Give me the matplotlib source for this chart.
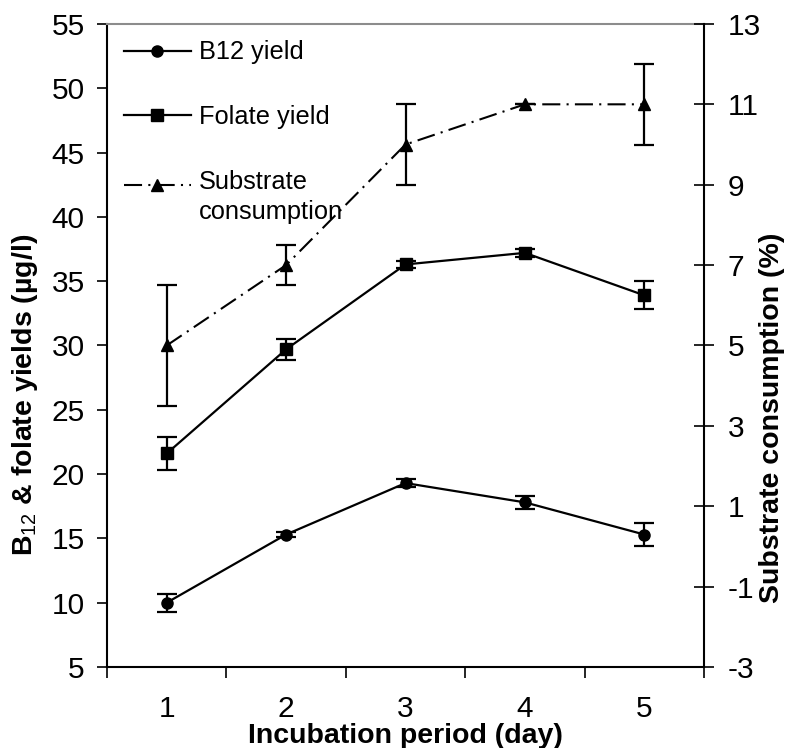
import matplotlib
matplotlib.use("Agg")
import matplotlib.pyplot as plt
import numpy as np
from matplotlib.legend_handler import HandlerLine2D
from matplotlib.ticker import MultipleLocator, FixedLocator

plt.rcParams['font.family'] = ['Liberation Sans', 'DejaVu Sans']
plt.rcParams['mathtext.fontset'] = 'custom'
plt.rcParams['mathtext.rm'] = 'Liberation Sans'
plt.rcParams['mathtext.bf'] = 'Liberation Sans:bold'
plt.rcParams['lines.scale_dashes'] = False
plt.rcParams['axes.unicode_minus'] = False

# data
days = [1, 2, 3, 4, 5]
b12 = [10.0, 15.3, 19.3, 17.8, 15.3]
b12_err = [0.7, 0.2, 0.3, 0.5, 0.9]
folate = [21.6, 29.7, 36.3, 37.2, 33.9]
folate_err = [1.3, 0.8, 0.3, 0.3, 1.1]
substrate = [5, 7, 10, 11, 11]
substrate_err = [1.5, 0.5, 1.0, 0.0, 1.0]
right_ticks = [-3, -1, 1, 3, 5, 7, 9, 11, 13]


class ShiftHandler(HandlerLine2D):
    # keep the marker level with the first text line of a two-line label
    def __init__(self, shift, **kw):
        super().__init__(**kw)
        self.shift = shift

    def create_artists(self, legend, orig_handle, xdescent, ydescent,
                       width, height, fontsize, trans):
        return super().create_artists(legend, orig_handle, xdescent,
                                      ydescent - self.shift, width, height,
                                      fontsize, trans)


fig = plt.figure(figsize=(7.87, 7.48), dpi=100)
ax = fig.add_axes([0.136, 0.1083, 0.7585, 0.8597])
ax2 = ax.twinx()

l1 = ax.errorbar(days, b12, yerr=b12_err, color='black', marker='o', ms=8,
                 lw=1.6, capsize=7, capthick=1.6, elinewidth=1.6)
l2 = ax.errorbar(days, folate, yerr=folate_err, color='black', marker='s', ms=8,
                 lw=1.6, capsize=7, capthick=1.6, elinewidth=1.6)
l3 = ax2.errorbar(days, substrate, yerr=substrate_err, color='black', marker='^',
                  ms=9, lw=1.5, capsize=7, capthick=1.6, elinewidth=1.6)
l3[0].set_dashes([13, 4.5, 1.5, 4.5])

ax.set_xlim(0.5, 5.5)
ax.set_ylim(5, 55)
ax2.set_ylim(-3, 13)
ax.yaxis.set_major_locator(MultipleLocator(5))
ax2.yaxis.set_major_locator(FixedLocator(right_ticks))
ax.xaxis.set_major_locator(FixedLocator(days))
ax.xaxis.set_minor_locator(FixedLocator(np.arange(0.5, 6.0, 1.0)))

ax.tick_params(axis='x', which='major', length=0, pad=20, labelsize=21.5)
ax.tick_params(axis='x', which='minor', length=8, width=1.2, direction='out')
ax.tick_params(axis='y', length=7, width=1.2, direction='out', pad=9, labelsize=21.5)
ax2.tick_params(axis='y', length=14, width=1.2, direction='inout', pad=10, labelsize=21.5)

for s in ['left', 'bottom']:
    ax.spines[s].set_linewidth(1.5)
ax.spines['right'].set_visible(False)
ax.spines['top'].set_color('#8c8c8c')
ax.spines['top'].set_linewidth(1.5)
ax2.spines['right'].set_linewidth(1.5)
for s in ['left', 'bottom', 'top']:
    ax2.spines[s].set_visible(False)

ax.set_xlabel('Incubation period (day)', fontsize=20.5, fontweight='bold', labelpad=0)
ax.set_ylabel(r'B$_\mathrm{12}$ & folate yields (µg/l)', fontsize=20.5, fontweight='bold')
ax.yaxis.set_label_coords(-0.112, 0.423)
ax2.set_ylabel('Substrate consumption (%)', fontsize=20.5, fontweight='bold')
ax2.yaxis.set_label_coords(1.092, 0.387)

leg = ax2.legend([l1[0], l2[0], l3[0]], ['B12 yield', 'Folate yield', 'Substrate\nconsumption'],
                 loc='upper left', bbox_to_anchor=(0.0, 1.0), frameon=False,
                 fontsize=18.3, handlelength=2.65, handletextpad=0.3,
                 labelspacing=1.6, borderaxespad=0.25,
                 handler_map={l3[0]: ShiftHandler(18.5)})
leg.get_texts()[2].set_linespacing(1.35)

fig.savefig('out.png', dpi=100)
